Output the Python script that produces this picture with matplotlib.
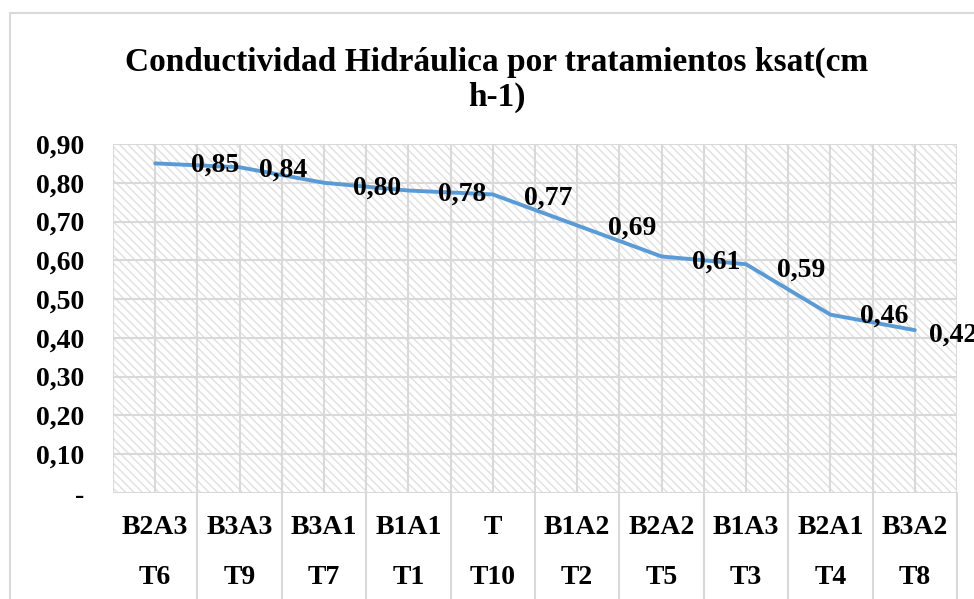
import matplotlib
matplotlib.use("Agg")
import matplotlib.pyplot as plt
from matplotlib.patches import Rectangle
from matplotlib.lines import Line2D
import matplotlib.transforms as mtransforms

# ---- data ----
codes = ["B2A3", "B3A3", "B3A1", "B1A1", "T", "B1A2", "B2A2", "B1A3", "B2A1", "B3A2"]
treatments = ["T6", "T9", "T7", "T1", "T10", "T2", "T5", "T3", "T4", "T8"]
ksat = [0.85, 0.84, 0.80, 0.78, 0.77, 0.69, 0.61, 0.59, 0.46, 0.42]
yticks = [0.0, 0.1, 0.2, 0.3, 0.4, 0.5, 0.6, 0.7, 0.8, 0.9]
ytick_labels = ["-", "0,10", "0,20", "0,30", "0,40", "0,50", "0,60", "0,70", "0,80", "0,90"]
title = "Conductividad Hidráulica por tratamientos ksat(cm\nh-1)"

# label offsets in pixels (dx right, dy up) relative to each point
label_offsets = [(60, -2), (44, -3), (53, -5), (54, -4), (55, -4), (55, -3), (55, -6), (55, -6), (54, -2), (38, -5)]

W, H = 974, 599
plt.rcParams['hatch.linewidth'] = 1.0
fig = plt.figure(figsize=(W / 100, H / 100), dpi=100)
plt.rcParams['font.family'] = ['Liberation Serif', 'DejaVu Serif']

grid_c = '#d9d9d9'
# chart border
fig.patches.append(Rectangle((10 / W, -0.05), 1.1, 1 - 13 / H + 0.05, transform=fig.transFigure,
                             fill=False, edgecolor=grid_c, linewidth=1.5))

L, R, T, B = 113, 957, 144, 493
ax = fig.add_axes([L / W, 1 - B / H, (R - L) / W, (B - T) / H])
ax.set_xlim(-0.5, len(codes) - 0.5)
ax.set_ylim(0, 0.9)
ax.set_facecolor('white')

# hatched background
ax.add_patch(Rectangle((0, 0), 1, 1, transform=ax.transAxes, facecolor='white',
                       edgecolor='#e0e0e0', linewidth=0, hatch=chr(92) * 4, zorder=0))

for s in ax.spines.values():
    s.set_visible(False)

# gridlines
for y in yticks:
    ax.axhline(y, color=grid_c, lw=1.5, zorder=1)
n = len(codes)
for k in range(2 * n + 1):
    ax.axvline(-0.5 + 0.5 * k, color=grid_c, lw=1.5, zorder=1)

x = list(range(n))
ax.plot(x, ksat, color='#5b9bd5', lw=2.8, solid_joinstyle='round', solid_capstyle='round', zorder=3)

for i, v in enumerate(ksat):
    dx, dy = label_offsets[i]
    ax.annotate(f"{v:.2f}".replace('.', ','), (i, v), xytext=(dx * 0.72, dy * 0.72),
                textcoords='offset points', ha='center', va='center',
                fontsize=20, fontweight='bold', annotation_clip=False, zorder=4)

ax.set_yticks(yticks)
ax.set_yticklabels(ytick_labels, fontsize=20, fontweight='bold')
ax.tick_params(axis='y', length=0, pad=21)
ax.set_xticks([])

# category labels
trans = mtransforms.blended_transform_factory(ax.transData, fig.transFigure)
for i in range(n):
    ax.text(i, 1 - 528 / H, codes[i], transform=trans, ha='center', va='center',
            fontsize=20, fontweight='bold')
    ax.text(i, 1 - 578 / H, treatments[i], transform=trans, ha='center', va='center',
            fontsize=20, fontweight='bold')
for k in range(1, n + 1):
    ax.add_line(Line2D([-0.5 + k, -0.5 + k], [1 - B / H, -0.02], transform=trans,
                       color=grid_c, lw=1.5, clip_on=False))

fig.text(497 / W, 1 - 80 / H, title, ha='center', va='center', fontsize=24,
         fontweight='bold', linespacing=1.15)

fig.savefig('out.png', dpi=100)
